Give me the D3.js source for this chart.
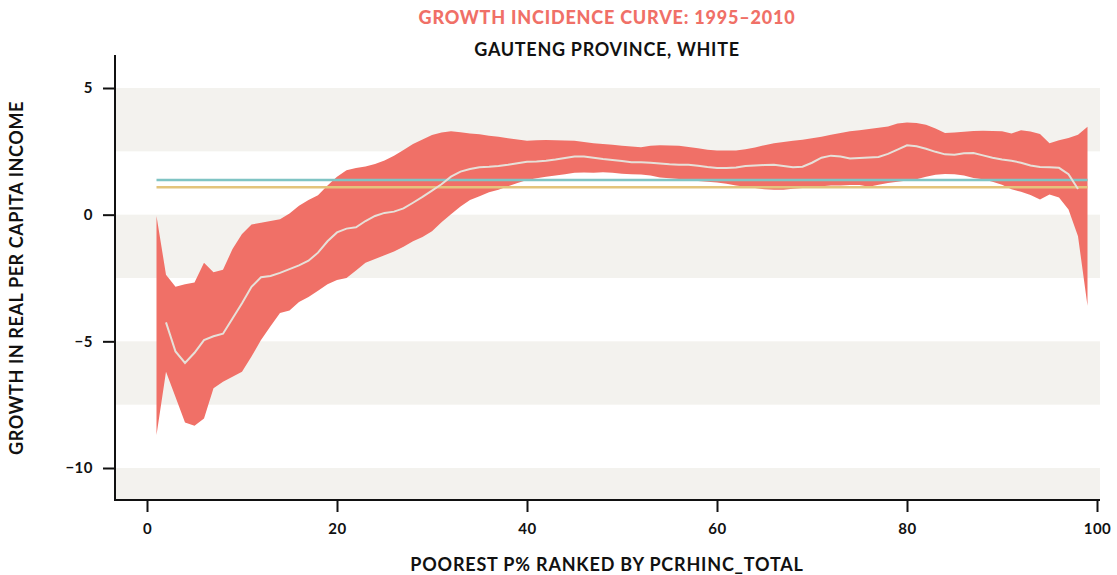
<!DOCTYPE html>
<html lang="en">
    <head>
        <meta charset="UTF-8" />
        <title>Growth Incidence Curve</title>
        <script src="https://d3js.org/d3.v7.min.js"></script>
        <style>
            body {
                margin: 0;
                background: #fff;
                font-family: Lato, sans-serif;
            }
            .tick text {
                font-family: Lato, sans-serif;
                font-weight: 700;
                font-size: 15px;
                letter-spacing: 0.5px;
                fill: #111;
            }
        </style>
    </head>
    <body>
        <svg width="1117" height="575"></svg>

        <script>
            // percentile ranks
            const pct = d3.range(1, 100);
            // upper / lower confidence bounds, percentiles 1..99
            const upper = [
                -0.05, -2.37, -2.85, -2.75, -2.68, -1.9, -2.27, -2.17, -1.36, -0.76,
                -0.39, -0.32, -0.25, -0.18, 0.05, 0.35, 0.58, 0.77, 1.15, 1.5,
                1.75, 1.84, 1.9, 2.0, 2.14, 2.33, 2.55, 2.79, 2.97, 3.14,
                3.24, 3.29, 3.25, 3.2, 3.17, 3.12, 3.08, 3.02, 2.97, 2.92,
                2.94, 2.95, 2.94, 2.93, 2.92, 2.87, 2.82, 2.79, 2.76, 2.72,
                2.69, 2.66, 2.72, 2.74, 2.73, 2.72, 2.67, 2.62, 2.56, 2.53,
                2.53, 2.53, 2.58, 2.65, 2.74, 2.82, 2.87, 2.92, 2.96, 3.02,
                3.08, 3.15, 3.22, 3.29, 3.33, 3.38, 3.43, 3.48, 3.6, 3.64,
                3.62, 3.55, 3.4, 3.22, 3.24, 3.27, 3.3, 3.31, 3.3, 3.29,
                3.2, 3.33, 3.28, 3.18, 2.82, 2.94, 3.03, 3.15, 3.47
            ];
            const lower = [
                -8.7, -6.2, -7.2, -8.2, -8.33, -8.05, -6.85, -6.6, -6.4, -6.2,
                -5.6, -4.95, -4.4, -3.88, -3.78, -3.45, -3.25, -3.0, -2.75, -2.58,
                -2.5, -2.2, -1.9, -1.75, -1.6, -1.45, -1.27, -1.05, -0.88, -0.65,
                -0.3, 0.02, 0.32, 0.58, 0.73, 0.88, 0.98, 1.12, 1.25, 1.37,
                1.44, 1.5, 1.55, 1.6, 1.65, 1.66, 1.65, 1.67, 1.65, 1.62,
                1.6, 1.59, 1.55, 1.47, 1.44, 1.41, 1.37, 1.33, 1.3, 1.27,
                1.22, 1.15, 1.1, 1.05, 1.0, 0.98, 0.98, 1.02, 1.05, 1.1,
                1.12, 1.15, 1.15, 1.17, 1.17, 1.1, 1.18, 1.25, 1.3, 1.35,
                1.4, 1.5, 1.58, 1.61, 1.6, 1.55, 1.45, 1.4, 1.3, 1.18,
                1.0, 0.9, 0.78, 0.6, 0.8, 0.68, 0.2, -0.85, -3.6
            ];
            // point estimate, percentiles 2..98
            const growthPct = d3.range(2, 99);
            const growth = [
                -4.25, -5.4, -5.85, -5.45, -4.95, -4.8, -4.7, -4.1, -3.5, -2.85,
                -2.47, -2.42, -2.3, -2.15, -2.0, -1.82, -1.5, -1.05, -0.7, -0.55,
                -0.5, -0.25, -0.05, 0.07, 0.12, 0.25, 0.47, 0.7, 0.95, 1.2,
                1.5, 1.7, 1.8, 1.87, 1.89, 1.92, 1.97, 2.03, 2.09, 2.1,
                2.13, 2.18, 2.24, 2.3, 2.3, 2.25, 2.2, 2.16, 2.12, 2.07,
                2.07, 2.05, 2.02, 1.99, 1.97, 1.97, 1.93, 1.88, 1.84, 1.84,
                1.86, 1.92, 1.94, 1.96, 1.97, 1.92, 1.87, 1.89, 2.05, 2.25,
                2.33, 2.3, 2.22, 2.24, 2.26, 2.28, 2.4, 2.57, 2.74, 2.7,
                2.6, 2.48, 2.38, 2.37, 2.42, 2.43, 2.34, 2.25, 2.18, 2.13,
                2.05, 1.94, 1.88, 1.87, 1.85, 1.6, 1.01
            ];
            // reference lines
            const refValues = [1.37, 1.08];
            const refColors = ["#7fc4c4", "#e3c47c"];
            const xTicks = [0, 20, 40, 60, 80, 100];
            const yTicks = [5, 0, -5, -10];
            const bandStops = [[2.5, 5], [-2.5, 0], [-7.5, -5], [-12, -10]];

            const svg = d3.select("svg");
            const plotLeft = 115,
                plotRight = 1100,
                plotTop = 55,
                plotBottom = 500;

            const x = d3.scaleLinear().domain([0, 100]).range([147, 1097]);
            const y = d3.scaleLinear().domain([5, -10]).range([88, 468]);

            // background stripes
            svg.append("g")
                .selectAll("rect")
                .data(bandStops)
                .join("rect")
                .attr("x", plotLeft)
                .attr("width", plotRight - plotLeft)
                .attr("y", (d) => y(d[1]))
                .attr("height", (d) => Math.min(plotBottom, y(d[0])) - y(d[1]))
                .attr("fill", "#f3f2ee");

            // confidence band
            const bandData = pct.map((p, i) => ({ p, lo: lower[i], hi: upper[i] }));
            svg.append("path")
                .datum(bandData)
                .attr("fill", "#f07067")
                .attr(
                    "d",
                    d3
                        .area()
                        .x((d) => x(d.p))
                        .y0((d) => y(d.lo))
                        .y1((d) => y(d.hi))
                );

            // reference lines
            svg.append("g")
                .selectAll("line")
                .data(refValues)
                .join("line")
                .attr("x1", x(1))
                .attr("x2", x(99))
                .attr("y1", (d) => y(d))
                .attr("y2", (d) => y(d))
                .attr("stroke", (d, i) => refColors[i])
                .attr("stroke-width", 2.5);

            // point estimate
            svg.append("path")
                .datum(growthPct.map((p, i) => [p, growth[i]]))
                .attr("fill", "none")
                .attr("stroke", "#e6e1d9")
                .attr("stroke-width", 2)
                .attr(
                    "d",
                    d3
                        .line()
                        .x((d) => x(d[0]))
                        .y((d) => y(d[1]))
                );

            // axes
            const yAxis = svg
                .append("g")
                .attr("transform", `translate(${plotLeft},0)`)
                .call(d3.axisLeft(y).tickValues(yTicks).tickSize(12).tickPadding(10));
            const xAxis = svg
                .append("g")
                .attr("transform", `translate(0,${plotBottom})`)
                .call(d3.axisBottom(x).tickValues(xTicks).tickSize(12).tickPadding(11));
            [yAxis, xAxis].forEach((g) => {
                g.select(".domain").remove();
                g.selectAll(".tick line").attr("stroke", "#111").attr("stroke-width", 2);
            });

            svg.append("line")
                .attr("x1", plotLeft)
                .attr("x2", plotLeft)
                .attr("y1", plotTop)
                .attr("y2", plotBottom + 1)
                .attr("stroke", "#111")
                .attr("stroke-width", 2);
            svg.append("line")
                .attr("x1", plotLeft - 1)
                .attr("x2", plotRight)
                .attr("y1", plotBottom)
                .attr("y2", plotBottom)
                .attr("stroke", "#111")
                .attr("stroke-width", 2);

            // titles
            svg.append("text")
                .attr("x", 607)
                .attr("y", 24)
                .attr("text-anchor", "middle")
                .attr("fill", "#f07067")
                .style("font-weight", 900)
                .style("font-size", "18px")
                .style("letter-spacing", "0.8px")
                .text("GROWTH INCIDENCE CURVE: 1995–2010");
            svg.append("text")
                .attr("x", 607)
                .attr("y", 56)
                .attr("text-anchor", "middle")
                .attr("fill", "#111")
                .style("font-weight", 700)
                .style("font-size", "18px")
                .style("letter-spacing", "0.7px")
                .text("GAUTENG PROVINCE, WHITE");
            svg.append("text")
                .attr("x", 607)
                .attr("y", 571)
                .attr("text-anchor", "middle")
                .attr("fill", "#111")
                .style("font-weight", 700)
                .style("font-size", "18px")
                .style("letter-spacing", "0.8px")
                .text("POOREST P% RANKED BY PCRHINC_TOTAL");
            svg.append("text")
                .attr("transform", "translate(23,278) rotate(-90)")
                .attr("text-anchor", "middle")
                .attr("fill", "#111")
                .style("font-weight", 700)
                .style("font-size", "18px")
                .style("letter-spacing", "0.6px")
                .text("GROWTH IN REAL PER CAPITA INCOME");
        </script>
    </body>
</html>
